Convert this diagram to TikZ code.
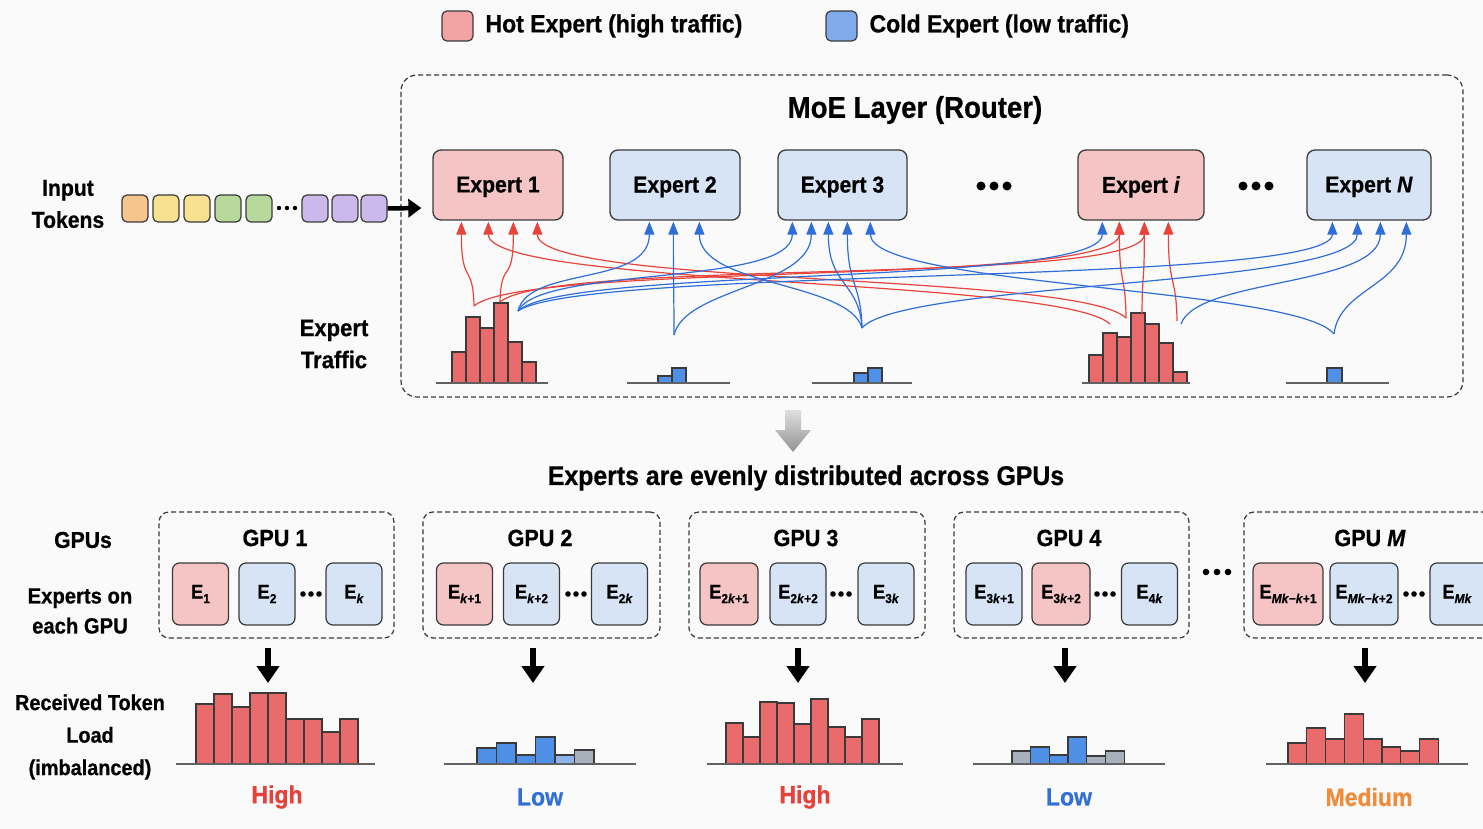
\documentclass[tikz,border=0pt]{standalone}
\usepackage{fontspec}
\setmainfont{Liberation Sans}[FakeStretch=0.92, BoldFeatures={FakeBold=0.6}, BoldItalicFeatures={FakeBold=0.6}]
\usetikzlibrary{arrows.meta,calc}

\definecolor{hotfill}{HTML}{F5C4C4}
\definecolor{coldfill}{HTML}{D6E4F6}
\definecolor{hotswatch}{HTML}{F2A3A3}
\definecolor{coldswatch}{HTML}{80AAEA}
\definecolor{hotline}{HTML}{E8443C}
\definecolor{coldline}{HTML}{2F6ED8}
\definecolor{hotbar}{HTML}{E96B6B}
\definecolor{coldbar}{HTML}{4F8FE6}
\definecolor{paleblue}{HTML}{8DB4EC}
\definecolor{greybar}{HTML}{A8B0BC}
\definecolor{edge}{HTML}{3A3A3A}
\definecolor{medium}{HTML}{F08B3A}
\definecolor{hightxt}{HTML}{E8413C}
\definecolor{lowtxt}{HTML}{2F6FD6}
\definecolor{tokA}{HTML}{F6C58E}
\definecolor{tokB}{HTML}{F7E08F}
\definecolor{tokC}{HTML}{B7D99C}
\definecolor{tokD}{HTML}{CBB9EC}
\definecolor{paper}{HTML}{FAFAFA}

\newcommand\fsz[2]{\fontsize{#1}{#2}\selectfont\bfseries}
\newcommand\lowidx[1]{\raisebox{-0.22em}{\fontsize{13}{13}\selectfont\bfseries #1}}
% bars of a histogram: baseline y, bar width, list of left-x/top-y/colour
\newcommand\histo[3]{\foreach \bx/\bt/\bc in {#3}
  \draw[barstyle, fill=\bc] (\bx,#1) rectangle ({\bx+#2},\bt);}

\begin{document}
\begin{tikzpicture}[x=1pt,y=-1pt,
  expert/.style={draw=edge, line width=1.3pt, rounded corners=8pt,
    minimum width=130pt, minimum height=70pt, inner sep=0pt, text depth=1pt,
    font=\fsz{23}{28}},
  hot/.style={expert, fill=hotfill},
  cold/.style={expert, fill=coldfill},
  dashbox/.style={draw=edge, dash pattern=on 5pt off 3pt, line width=1.2pt,
    rounded corners=10pt, inner sep=0pt},
  ebox/.style={draw=edge, line width=1.2pt, rounded corners=7pt,
    minimum width=56pt, minimum height=62pt, inner sep=0pt, font=\fsz{20}{24}},
  ehot/.style={ebox, fill=hotfill},
  ecold/.style={ebox, fill=coldfill},
  token/.style={draw=edge, line width=1.2pt, rounded corners=5pt,
    minimum width=26pt, minimum height=27pt, inner sep=0pt},
  swatch/.style={draw=edge, line width=1.2pt, rounded corners=5pt,
    minimum width=31pt, minimum height=30pt, inner sep=0pt},
  hotcurve/.style={hotline, line width=1.2pt, -{Triangle[width=10pt,length=13pt]}},
  coldcurve/.style={coldline, line width=1.2pt, -{Triangle[width=10pt,length=13pt]}},
  barstyle/.style={draw=edge, line width=1.3pt},
  baseline/.style={draw=edge!80, line width=2pt},
  downarrow/.style={line width=6pt, -{Triangle[width=22pt,length=17pt]}},
  dot/.style={fill=black, draw=none},
  label/.style={font=\fsz{23}{32}, align=center},
]
\clip (0,0) rectangle (1483,829);
\fill[paper] (0,0) rectangle (1483,829);

% ---------- legend ----------
\node[swatch, fill=hotswatch] (lhot) at (457.5,26) {};
\node[anchor=west, font=\fsz{25}{30}] (lhottxt) at (482,26) {Hot Expert (high traffic)};
\node[swatch, fill=coldswatch] (lcold) at (841.5,26) {};
\node[anchor=west, font=\fsz{25}{30}] (lcoldtxt) at (866,26) {Cold Expert (low traffic)};

% ---------- MoE layer ----------
\node[dashbox, rounded corners=16pt, minimum width=1062pt, minimum height=322pt] (moe) at (932,236) {};
\node[font=\fsz{30}{34}] (moetitle) at (915,110) {MoE Layer (Router)};

\node[hot]  (X1) at (498,185) {Expert 1};
\node[cold] (X2) at (675,185) {Expert 2};
\node[cold, minimum width=129pt] (X3) at (842.5,185) {Expert 3};
\node[hot,  minimum width=126pt] (Xi) at (1141,185) {Expert \textit{i}};
\node[cold, minimum width=124pt] (XN) at (1369,185) {Expert \textit{N}};
\foreach \dx in {-13,0,13} {
  \fill[dot] (994+\dx,186) circle (4.5);
  \fill[dot] (1256+\dx,186) circle (4.5);
}

% ---------- input tokens ----------
\node[label] (inlbl) at (68,204) {Input\\Tokens};
\node[token, fill=tokA] (k1) at (135,208.5) {};
\node[token, fill=tokB] (k2) at (166,208.5) {};
\node[token, fill=tokB] (k3) at (197,208.5) {};
\node[token, fill=tokC] (k4) at (228,208.5) {};
\node[token, fill=tokC] (k5) at (259,208.5) {};
\node[token, fill=tokD] (k6) at (315,208.5) {};
\node[token, fill=tokD] (k7) at (345,208.5) {};
\node[token, fill=tokD] (k8) at (374,208.5) {};
\foreach \dx in {-8,0,8} \fill[dot] (287+\dx,208) circle (2.2);
\coordinate (tokin) at ($(X1.west)+(-11,23)$);
\draw[line width=4.5pt, -{Triangle[width=18pt,length=13pt]}] (k8.east) -- (tokin);

% ---------- expert traffic ----------
\node[label, font=\fsz{24}{32}] (trlbl) at (334,344) {Expert\\Traffic};

\histo{383}{14}{452/352/hotbar,466/317/hotbar,480/328/hotbar,494/303/hotbar,508/342/hotbar,522/362/hotbar}
\histo{383}{14}{658/376/coldbar,672/368/coldbar}
\histo{383}{14}{854/373/coldbar,868/368/coldbar}
\histo{383}{14}{1089/355/hotbar,1103/333/hotbar,1117/337/hotbar,1131/313/hotbar,1145/324/hotbar,1159/343/hotbar,1173/372/hotbar}
\histo{383}{15}{1327/368/coldbar}
\draw[baseline] (436,383) -- (548,383);
\draw[baseline] (627,383) -- (730,383);
\draw[baseline] (812,383) -- (912,383);
\draw[baseline] (1082,383) -- (1190,383);
\draw[baseline] (1286,383) -- (1389,383);

% routing sources above the histograms
\coordinate (S1r)  at (474,306);
\coordinate (S1q)  at (500,302);
\coordinate (S1b)  at (518,311);
\coordinate (S2)   at (674,335);
\coordinate (S3)   at (862,328);
\coordinate (Hi1)  at (1110,324);
\coordinate (Hi2)  at (1126,318);
\coordinate (Hi3)  at (1142,315);
\coordinate (Hi4)  at (1177,321);
\coordinate (HiB)  at (1181,324);
\coordinate (SN)   at (1334,334);

% arrow entry points on the expert boxes
\foreach \n/\x in {11/462,12/489,13/514,14/538} \coordinate (t\n) at ($(X1.south west)+(\x-433,1)$);
\foreach \n/\x in {21/650,22/674,23/700} \coordinate (t\n) at ($(X2.south west)+(\x-610,1)$);
\foreach \n/\x in {31/793,32/812,33/829,34/848,35/871} \coordinate (t\n) at ($(X3.south west)+(\x-778,1)$);
\foreach \n/\x in {ib/1103,i2/1120,i3/1145,i4/1169} \coordinate (t\n) at ($(Xi.south west)+(\x-1078,1)$);
\foreach \n/\x in {N1/1333,N2/1358,N3/1381,N4/1407} \coordinate (t\n) at ($(XN.south west)+(\x-1307,1)$);

\foreach \s/\t in {S1r/t11,S1r/ti2,S1q/t13,S1q/ti3,Hi1/t12,Hi2/t14,Hi2/ti2,Hi3/ti3,Hi4/ti4}
  \draw[hotcurve] (\s) .. controls ($(\s)!0.08!(\t)+(0,-38)$) and ($(\t)+(0,65)$) .. (\t);
\foreach \s/\t in {S1b/t21,S1b/t31,S1b/tib,S1b/tN1,S2/t22,S2/t32,S3/t23,S3/t33,S3/t34,S3/tN2,HiB/tN3,SN/t35,SN/tN4}
  \draw[coldcurve] (\s) .. controls ($(\s)!0.08!(\t)+(0,-38)$) and ($(\t)+(0,65)$) .. (\t);

% ---------- transition ----------
\shade[top color=gray!25, bottom color=gray!85]
  (785,410) -- (801,410) -- (801,430) -- (811,430) -- (793,452) -- (775,430) -- (785,430) -- cycle;
\node[font=\fsz{27}{30}] (distr) at (806,478) {Experts are evenly distributed across GPUs};

% ---------- GPUs ----------
\node[label, font=\fsz{23}{30}] (gpulbl) at (83,540) {GPUs};
\node[label, font=\fsz{22}{30}] (explbl) at (80,611) {Experts on\\each GPU};

\node[dashbox, minimum width=235pt, minimum height=126pt] (G1) at (276.5,575) {};
\node[dashbox, minimum width=237pt, minimum height=126pt] (G2) at (541.5,575) {};
\node[dashbox, minimum width=236pt, minimum height=126pt] (G3) at (807,575) {};
\node[dashbox, minimum width=235pt, minimum height=126pt] (G4) at (1071.5,575) {};
\node[dashbox, minimum width=252pt, minimum height=126pt] (GM) at (1370,575) {};

\node[font=\fsz{23.5}{28}] at (275,538) {GPU 1};
\node[font=\fsz{23.5}{28}] at (540,538) {GPU 2};
\node[font=\fsz{23.5}{28}] at (806,538) {GPU 3};
\node[font=\fsz{23.5}{28}] at (1069,538) {GPU 4};
\node[font=\fsz{23.5}{28}] at (1370,538) {GPU \textit{M}};

\node[ehot]  (e11) at (200.5,594) {E\lowidx{1}};
\node[ecold] (e12) at (267,594)   {E\lowidx{2}};
\node[ecold] (e1k) at (354,594)   {E\lowidx{\textit{k}}};

\node[ehot]  (e21) at (464.5,594) {E\lowidx{\textit{k}+1}};
\node[ecold] (e22) at (531.5,594) {E\lowidx{\textit{k}+2}};
\node[ecold] (e2k) at (619.5,594) {E\lowidx{2\textit{k}}};

\node[ehot, minimum width=58pt]  (e31) at (729,594) {E\lowidx{2\textit{k}+1}};
\node[ecold] (e32) at (798,594) {E\lowidx{2\textit{k}+2}};
\node[ecold] (e3k) at (886,594) {E\lowidx{3\textit{k}}};

\node[ecold] (e41) at (994,594) {E\lowidx{3\textit{k}+1}};
\node[ehot, minimum width=58pt] (e42) at (1061,594) {E\lowidx{3\textit{k}+2}};
\node[ecold] (e4k) at (1149.5,594) {E\lowidx{4\textit{k}}};

\node[ehot, minimum width=70pt]  (eM1) at (1288,594) {E\lowidx{\textit{Mk}−\textit{k}+1}};
\node[ecold, minimum width=68pt] (eM2) at (1364,594) {E\lowidx{\textit{Mk}−\textit{k}+2}};
\node[ecold, minimum width=60pt] (eMk) at (1460,594) {\hspace*{-6pt}E\lowidx{\textit{Mk}}};

\foreach \cx in {311,576,841,1105,1414}
  \foreach \dx in {-8,0,8} \fill[dot] (\cx+\dx,594) circle (2.8);
\foreach \dx in {-11,0,11} \fill[dot] (1217+\dx,572) circle (3.3);

% ---------- received load ----------
\node[label, font=\fsz{21.6}{32.5}] (loadlbl) at (90,737) {Received Token\\Load\\(imbalanced)};

\coordinate (h1) at (268,683);
\coordinate (h2) at (533,683);
\coordinate (h3) at (798,683);
\coordinate (h4) at (1065,683);
\coordinate (hM) at (1365,683);
\draw[downarrow] ($(G1.south)+(-8.5,9)$) -- (h1);
\draw[downarrow] ($(G2.south)+(-8.5,9)$) -- (h2);
\draw[downarrow] ($(G3.south)+(-9,9)$) -- (h3);
\draw[downarrow] ($(G4.south)+(-6.5,9)$) -- (h4);
\draw[downarrow] ($(GM.south)+(-5,9)$) -- (hM);

\histo{764}{18}{196/704/hotbar,214/694/hotbar,232/707/hotbar,250/693/hotbar,268/693/hotbar,286/719/hotbar,304/719/hotbar,322/732/hotbar,340/719/hotbar}
\histo{764}{19.5}{477/748/coldbar,496.5/743/coldbar,516/755/coldbar,535.5/737/coldbar,555/755/paleblue,574.5/750/greybar}
\histo{764}{17}{726/723/hotbar,743/737/hotbar,760/702/hotbar,777/703/hotbar,794/724/hotbar,811/699/hotbar,828/727/hotbar,845/737/hotbar,862/719/hotbar}
\histo{764}{18.7}{1012/751/greybar,1030.7/747/coldbar,1049.4/755/coldbar,1068.1/737/coldbar,1086.8/756/greybar,1105.5/751/greybar}
\histo{764}{18.8}{1288/743/hotbar,1306.8/728/hotbar,1325.6/739/hotbar,1344.4/714/hotbar,1363.2/739/hotbar,1382/747/hotbar,1400.8/751/hotbar,1419.6/739/hotbar}
\draw[baseline] (176,764) -- (375,764);
\draw[baseline] (444,764) -- (636,764);
\draw[baseline] (707,764) -- (903,764);
\draw[baseline] (973,764) -- (1165,764);
\draw[baseline] (1266,764) -- (1468,764);

\node[font=\fsz{25}{28}, text=hightxt] (r1) at (277,797) {High};
\node[font=\fsz{25}{28}, text=lowtxt]  (r2) at (540,797) {Low};
\node[font=\fsz{25}{28}, text=hightxt] (r3) at (805,797) {High};
\node[font=\fsz{25}{28}, text=lowtxt]  (r4) at (1069,797) {Low};
\node[font=\fsz{25}{28}, text=medium]  (rM) at (1369,797) {Medium};
\end{tikzpicture}
\end{document}
